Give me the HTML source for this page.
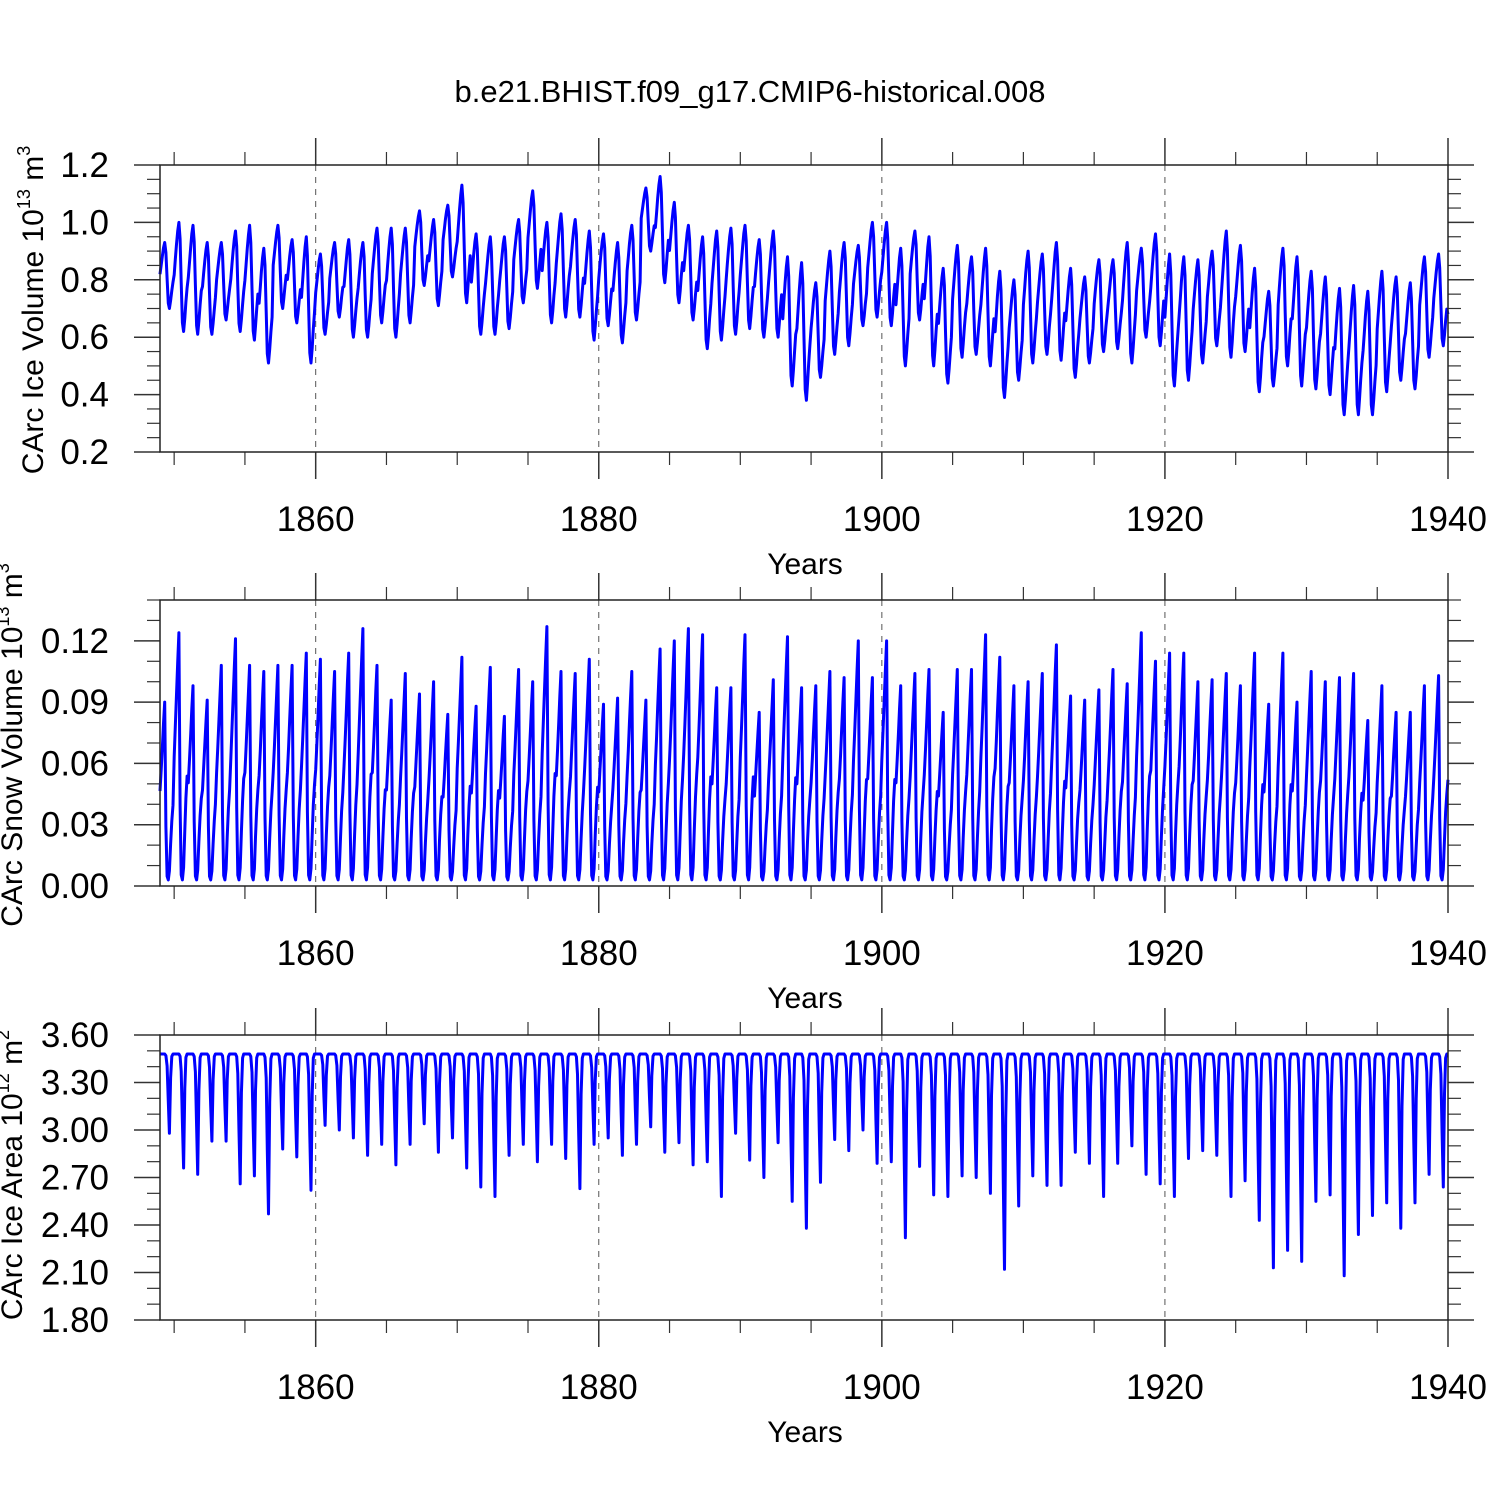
<!DOCTYPE html>
<html><head><meta charset="utf-8"><style>
html,body{margin:0;padding:0;background:#fff}
svg{display:block}
text{font-family:"Liberation Sans",sans-serif;fill:#000}
</style></head><body>
<svg id="chart" width="1500" height="1500" viewBox="0 0 1500 1500" xmlns="http://www.w3.org/2000/svg">
<rect width="1500" height="1500" fill="#fff"/>
<text x="750" y="102" font-size="31" text-anchor="middle">b.e21.BHIST.f09_g17.CMIP6-historical.008</text>
</svg>
<script>
// ---- data (yearly extremes, 1849..1939) ----
const years = [];
for (let y = 1849; y <= 1939; y++) years.push(y);
const xTickLabels = ["1860","1880","1900","1920","1940"];
const xTickValues = [1860,1880,1900,1920,1940];

const volMax = [0.93,1.00,0.99,0.93,0.93,0.97,0.99,0.91,0.99,0.94,0.95,0.89,0.93,0.94,0.93,0.98,0.98,0.98,1.04,1.01,1.06,1.13,0.96,0.95,0.95,1.01,1.11,1.00,1.03,1.01,0.97,0.96,0.93,0.99,1.12,1.16,1.07,0.99,0.95,0.97,0.98,0.99,0.94,0.97,0.88,0.86,0.79,0.90,0.93,0.92,1.00,1.00,0.91,0.97,0.95,0.84,0.92,0.88,0.91,0.83,0.80,0.90,0.89,0.93,0.84,0.81,0.87,0.87,0.93,0.91,0.96,0.89,0.88,0.87,0.90,0.97,0.92,0.84,0.76,0.91,0.88,0.83,0.81,0.77,0.78,0.76,0.83,0.81,0.79,0.88,0.89];
const volMin = [0.70,0.62,0.61,0.61,0.66,0.62,0.59,0.51,0.70,0.65,0.51,0.61,0.67,0.60,0.60,0.65,0.60,0.65,0.78,0.71,0.81,0.72,0.61,0.61,0.63,0.72,0.77,0.65,0.67,0.67,0.59,0.64,0.58,0.66,0.90,0.79,0.72,0.66,0.56,0.59,0.61,0.63,0.60,0.60,0.43,0.38,0.46,0.54,0.57,0.64,0.67,0.64,0.50,0.66,0.50,0.44,0.53,0.54,0.50,0.39,0.45,0.51,0.54,0.52,0.46,0.51,0.55,0.56,0.51,0.60,0.57,0.43,0.45,0.51,0.57,0.53,0.55,0.41,0.43,0.50,0.43,0.42,0.40,0.33,0.33,0.33,0.41,0.45,0.42,0.53,0.57];
const volSeason = [0.52,0.66,0.80,0.92,1.00,0.85,0.45,0.08,0.00,0.12,0.27,0.40];

const snowMax = [0.090,0.124,0.098,0.091,0.108,0.121,0.108,0.105,0.108,0.108,0.114,0.111,0.105,0.114,0.126,0.108,0.091,0.104,0.094,0.100,0.084,0.112,0.088,0.107,0.083,0.106,0.100,0.127,0.105,0.104,0.111,0.089,0.092,0.105,0.091,0.116,0.120,0.126,0.123,0.097,0.097,0.123,0.085,0.101,0.122,0.097,0.098,0.105,0.102,0.120,0.102,0.120,0.098,0.104,0.106,0.085,0.106,0.106,0.123,0.112,0.098,0.100,0.104,0.118,0.093,0.091,0.096,0.106,0.099,0.124,0.110,0.114,0.114,0.100,0.101,0.104,0.098,0.114,0.089,0.114,0.090,0.105,0.100,0.102,0.104,0.081,0.098,0.085,0.085,0.098,0.103];
const snowMin = 0.003;
const snowSeason = [0.50,0.62,0.75,0.88,1.00,0.30,0.02,0.00,0.05,0.20,0.33,0.42];

const areaMax = 3.48;
const areaMin = [2.98,2.76,2.72,2.93,2.93,2.66,2.71,2.47,2.88,2.83,2.62,3.03,3.00,2.95,2.84,2.91,2.78,2.91,3.04,2.86,2.95,2.76,2.64,2.58,2.84,2.91,2.80,2.91,2.82,2.63,2.91,2.95,2.84,2.91,3.02,2.86,2.92,2.78,2.80,2.58,2.98,2.81,2.70,2.92,2.55,2.38,2.67,2.94,2.87,3.00,2.79,2.80,2.32,2.77,2.59,2.58,2.71,2.70,2.60,2.12,2.52,2.71,2.65,2.65,2.86,2.79,2.58,2.79,2.90,2.72,2.66,2.58,2.82,2.87,2.84,2.58,2.68,2.43,2.13,2.24,2.17,2.55,2.59,2.08,2.34,2.46,2.54,2.38,2.54,2.72,2.64];
const areaSeason = [1,1,1,1,1,0.98,0.85,0.4,0,0.7,0.97,1];

const svg = document.getElementById('chart');
const NS = 'http://www.w3.org/2000/svg';
function mk(tag, attrs, parent){const e=document.createElementNS(NS,tag);for(const k in attrs)e.setAttribute(k,attrs[k]);(parent||svg).appendChild(e);return e;}

const X0 = 160, X1 = 1448, T0 = 1849.0, T1 = 1940.0;
function xs(t){return X0 + (t - T0) / (T1 - T0) * (X1 - X0);}

const panels = [
 {name:'ice-volume', top:165, bot:452, ymin:0.2, ymax:1.2, major:[0.2,0.4,0.6,0.8,1.0,1.2], labels:["0.2","0.4","0.6","0.8","1.0","1.2"], minorStep:0.05, title:'CArc Ice Volume 10', sup1:'13', unit:' m', sup2:'3', tx:43, ty:310,
  series: (i,m)=> volMin[i] + volSeason[m]*(volMax[i]-volMin[i]), last:0.68},
 {name:'snow-volume', top:600, bot:886, ymin:0, ymax:0.14, major:[0,0.03,0.06,0.09,0.12], labels:["0.00","0.03","0.06","0.09","0.12"], minorStep:0.01, title:'CArc Snow Volume 10', sup1:'13', unit:' m', sup2:'3', tx:22, ty:745,
  series: (i,m)=> snowMin + snowSeason[m]*(snowMax[i]-snowMin), last:0.052},
 {name:'ice-area', top:1035, bot:1320, ymin:1.8, ymax:3.6, major:[1.8,2.1,2.4,2.7,3.0,3.3,3.6], labels:["1.80","2.10","2.40","2.70","3.00","3.30","3.60"], minorStep:0.1, title:'CArc Ice Area 10', sup1:'12', unit:' m', sup2:'2', tx:22, ty:1175,
  series: (i,m)=> areaMin[i] + areaSeason[m]*(areaMax-areaMin[i]), last:3.48}
];

panels.forEach(p=>{
  const g = mk('g',{});
  
  
  const ys = v => p.bot - (v - p.ymin)/(p.ymax - p.ymin)*(p.bot - p.top);
  xTickValues.forEach(t=>{
    if (t < 1940) { const l = mk('line',{x1:xs(t),x2:xs(t),y1:p.top,y2:p.bot,stroke:'#555','stroke-width':1,'stroke-dasharray':'6,6'},g);
      }
  });
  for (let t=1850; t<=1940; t+=5){
    const maj = t%20===0;
    const L = maj?27:13;
    mk('line',{x1:xs(t),x2:xs(t),y1:p.top-L,y2:p.top,stroke:'#333','stroke-width':maj?1.5:1.2},g);
    mk('line',{x1:xs(t),x2:xs(t),y1:p.bot,y2:p.bot+L,stroke:'#333','stroke-width':maj?1.5:1.2},g);
  }
  const nMinor = Math.round((p.ymax-p.ymin)/p.minorStep);
  for (let k=0;k<=nMinor;k++){
    const v = p.ymin + k*p.minorStep; const y = ys(v);
    const maj = p.major.some(mv=>Math.abs(mv-v)<1e-6);
    const L = maj?26:13;
    mk('line',{x1:X0-L,x2:X0,y1:y,y2:y,stroke:'#333','stroke-width':maj?1.5:1.2},g);
    mk('line',{x1:X1,x2:X1+L,y1:y,y2:y,stroke:'#333','stroke-width':maj?1.5:1.2},g);
  }
  p.major.forEach((v,k)=>{
    const t = mk('text',{x:109,y:ys(v)+12,'font-size':35,'text-anchor':'end'},g);
    t.textContent = p.labels[k];
     
  });
  xTickValues.forEach((v,k)=>{
    const t = mk('text',{x:xs(v),y:p.bot+79,'font-size':35,'text-anchor':'middle'},g);
    t.textContent = xTickLabels[k];
     
  });
  const xt = mk('text',{x:805,y:p.bot+122,'font-size':30,'text-anchor':'middle'},g);
  xt.textContent='Years';
   
  const yt = mk('text',{x:0,y:0,'font-size':30,'text-anchor':'middle',transform:`translate(${p.tx},${p.ty}) rotate(-90)`},g);
   
  const s1 = mk('tspan',{},yt); s1.textContent = p.title;
  const s2 = mk('tspan',{dy:-13,'font-size':18},yt); s2.textContent = p.sup1;
  const s3 = mk('tspan',{dy:13},yt); s3.textContent = p.unit;
  const s4 = mk('tspan',{dy:-13,'font-size':18},yt); s4.textContent = p.sup2;
  const pts = [];
  years.forEach((yr,i)=>{
    for (let m=0;m<12;m++){
      const t = yr + m/12;
      pts.push(xs(t).toFixed(1)+','+ys(p.series(i,m)).toFixed(1));
    }
  });
  pts.push(xs(T1).toFixed(1)+','+ys(p.last).toFixed(1));
  const line = mk('polyline',{points:pts.join(' '),fill:'none',stroke:'#0000ff','stroke-width':3,'stroke-linejoin':'round'},g);
  
  
  const fr = mk('rect',{x:X0,y:p.top,width:X1-X0,height:p.bot-p.top,fill:'none',stroke:'#222','stroke-width':1.5},g);
   
});
</script>
</body></html>
